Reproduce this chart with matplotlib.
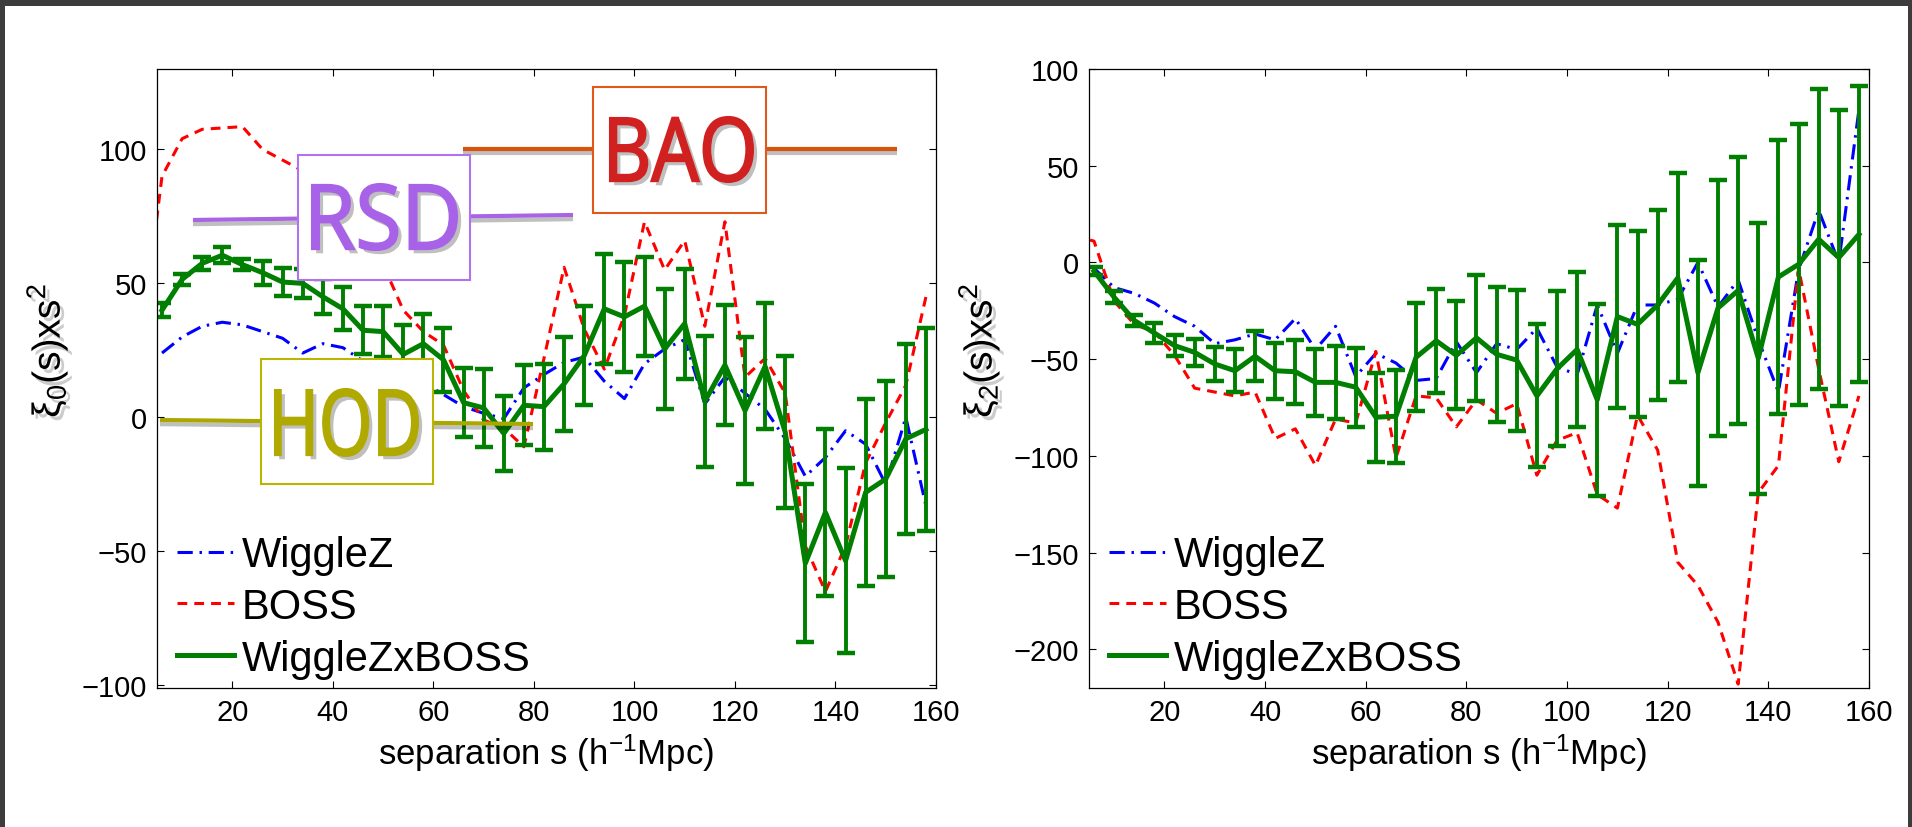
import numpy as np
import matplotlib
matplotlib.use("Agg")
import matplotlib.pyplot as plt
import matplotlib.patheffects as pe
from matplotlib.patches import Rectangle, PathPatch
from matplotlib.lines import Line2D
from matplotlib.textpath import TextPath
from matplotlib.font_manager import FontProperties
from matplotlib.transforms import Affine2D

W, H = 1912, 828

# --- data (separation in h^-1 Mpc) ---
s = [6, 10, 14, 18, 22, 26, 30, 34, 38, 42, 46, 50, 54, 58, 62, 66, 70, 74, 78, 82,
     86, 90, 94, 98, 102, 106, 110, 114, 118, 122, 126, 130, 134, 138, 142, 146, 150, 154, 158]
s_boss = [2] + s

# monopole xi_0(s) s^2
xi0_cross = [40, 51.5, 57.5, 60.5, 57, 54, 50.5, 50, 45, 40.5, 32.5, 32, 23.5, 27.5, 21.5, 5.5,
             3.5, -6, 4.5, 4, 12.5, 23, 40.5, 37.5, 41.5, 25.5, 35, 6, 19.5, 2.5, 19, -5.5,
             -54.5, -35.5, -53.5, -28, -23, -8, -4.5]
xi0_err = [2.5, 2, 2.5, 3, 2, 4.5, 5.3, 5.5, 6.5, 8, 9, 9.5, 11, 11, 12, 13, 14.5, 14, 15, 16,
           17.5, 18.5, 20.5, 20.5, 18.5, 22.5, 20.5, 24.5, 22.5, 27.5, 23.5, 28.5, 29.5, 31,
           34.5, 35, 36.5, 35.5, 38]
xi0_wigglez = [24, 30, 34, 35.5, 34.5, 32, 29.5, 24, 27.5, 26, 21, 18, 15, 13, 8.5, 4, 1.5, -0.5,
               11, 16, 20.5, 22.5, 13.5, 7, 20, 25.5, 29, 5, 15, 9, 3, -8, -22, -15, -5, -10,
               -25, 0, -33]
xi0_boss = [30, 90, 104, 107.5, 108, 108.5, 100, 96, 92, 88, 80, 70, 57, 40, 32, 27, 10, -1, -4,
            -11, 22, 56, 33, 18, 38, 73, 55, 66, 34, 73, 15, 22, 9, -48, -65, -48, -17, -2, 12, 45]

# quadrupole xi_2(s) s^2
xi2_cross = [-4.5, -18, -30, -36.5, -43, -46.5, -52.5, -56, -48.5, -56, -56.5, -62, -62, -64.5,
             -80, -79.5, -49, -40.5, -48, -39, -47.5, -50.5, -69, -55, -45, -71, -28, -32, -22,
             -8, -57, -23.5, -14.5, -49.5, -7.5, -1, 12, 2.5, 14.5]
xi2_err = [2, 3, 3, 5, 5.5, 7, 9, 11, 13, 14.5, 16.5, 17.5, 19, 20.5, 23, 24, 28, 27, 28, 32.5,
           35, 36.5, 37, 40, 40, 49.5, 47.5, 48, 49, 54, 58.5, 66, 69, 70, 71, 72.5, 77.5, 76.5,
           76.5]
xi2_wigglez = [-3, -13, -16, -21, -28, -33, -42, -40, -37, -40, -29, -45, -33, -59, -47, -52, -61,
               -60, -41, -57, -42, -45, -34, -54, -58, -22, -47, -22, -22, -19, 0, -23, -9, -40,
               -67, -4, 27, 0, 79]
xi2_boss = [14, 11, -20, -32, -36, -48, -65, -67, -69, -67, -91, -86, -105, -81, -83, -46, -101,
            -69, -70, -85, -71, -78, -73, -110, -92, -88, -120, -127, -79, -97, -155, -167, -186,
            -218, -119, -105, -3, -55, -103, -69]

labels = ["WiggleZ", "BOSS", "WiggleZxBOSS"]
x_ticks = [20, 40, 60, 80, 100, 120, 140, 160]

plt.rcParams['font.family'] = ['Liberation Sans', 'DejaVu Sans']
plt.rcParams['mathtext.fontset'] = 'custom'
plt.rcParams['mathtext.rm'] = 'Liberation Sans'
plt.rcParams['mathtext.it'] = 'Liberation Sans:italic'

GREEN = '#007f00'

fig = plt.figure(figsize=(W / 100, H / 100), dpi=100)
fig.patch.set_facecolor('white')

ax1 = fig.add_axes([157 / W, 1 - 689 / H, 779 / W, 619 / H])
ax2 = fig.add_axes([1089 / W, 1 - 689 / H, 780 / W, 619 / H])

panels = [
    (ax1, xi0_wigglez, xi0_boss, xi0_cross, xi0_err, (-101, 130), [-100, -50, 0, 50, 100],
     r'$\mathregular{\xi_0(s)xs^2}$'),
    (ax2, xi2_wigglez, xi2_boss, xi2_cross, xi2_err, (-220, 100), [-200, -150, -100, -50, 0, 50, 100],
     r'$\mathregular{\xi_2(s)xs^2}$'),
]

for ax, wz, bo, cr, err, ylim, yticks, ylab in panels:
    ax.plot(s, wz, color='blue', lw=2.2, linestyle=(0, (5, 2.2, 0.8, 2.2)), label=labels[0])
    ax.plot(s_boss, bo, color='red', lw=2.2, linestyle=(0, (3.2, 2.3)), label=labels[1])
    ax.errorbar(s, cr, yerr=err, fmt='none', ecolor=GREEN, elinewidth=2.8,
                capsize=6.5, capthick=3.2)
    ax.plot(s, cr, color=GREEN, lw=3.6, label=labels[2])

    ax.set_xlim(5, 160)
    ax.set_ylim(*ylim)
    ax.set_xticks(x_ticks)
    ax.set_yticks(yticks)
    ax.tick_params(direction='in', length=5, width=0.8, top=True, right=True,
                   labelsize=21, pad=7)
    for sp in ax.spines.values():
        sp.set_linewidth(0.9)

    ax.set_xlabel(r'separation s (h$^{-1}$Mpc)', fontsize=25)
    ax.xaxis.set_label_coords(0.5, -0.07)
    ax.set_ylabel(ylab, fontsize=28,
                  path_effects=[pe.withSimplePatchShadow(offset=(3, -3), shadow_rgbFace='gray', alpha=0.4)])
    ax.yaxis.set_label_coords(-0.112, 0.545)

    ax.legend(loc='lower left', bbox_to_anchor=(0.026, 0.015), frameon=False, fontsize=30,
              handlelength=1.37, handletextpad=0.17, labelspacing=0.28,
              borderpad=0, borderaxespad=0)


# --- overlay labels: RSD / BAO / HOD ---
def fx(x):
    return x / W


def fy(y):
    return 1 - y / H


def overlay(text, text_color, edge_color, line_color, box, text_box, line):
    lx0, ly0, lx1, ly1 = line
    fig.add_artist(Line2D([fx(lx0), fx(lx1)], [fy(ly0), fy(ly1)], transform=fig.transFigure,
                          color=line_color, lw=3, solid_capstyle='butt', zorder=3,
                          path_effects=[pe.SimpleLineShadow(offset=(0, -3), shadow_color='k', alpha=0.25),
                                        pe.Normal()]))
    bx0, by0, bx1, by1 = box
    fig.add_artist(Rectangle((fx(bx0), fy(by1)), (bx1 - bx0) / W, (by1 - by0) / H,
                             transform=fig.transFigure, facecolor='white', edgecolor=edge_color,
                             lw=1.5, zorder=4))
    tx0, ty0, tx1, ty1 = text_box
    tp = TextPath((0, 0), text, size=100, prop=FontProperties(family='Open Sans'))
    ext = tp.get_extents()
    sx = (tx1 - tx0) / ext.width
    sy = (ty1 - ty0) / ext.height
    tr = (Affine2D().translate(-ext.x0, -ext.y0).scale(sx, sy)
          .translate(tx0, H - ty1).scale(1 / W, 1 / H) + fig.transFigure)
    fig.add_artist(PathPatch(tp, transform=tr, facecolor=text_color, edgecolor=text_color, lw=1.5,
                             zorder=5,
                             path_effects=[pe.SimplePatchShadow(offset=(3, -3), shadow_rgbFace='k', alpha=0.25),
                                           pe.Normal()]))


overlay('BAO', '#d02020', '#e0581a', '#d9530e', (593, 88, 766, 214), (610, 118, 753, 183),
        (463, 150, 897, 150))
overlay('RSD', '#a862e8', '#b272f0', '#a864e4', (298, 156, 470, 281), (312, 185, 457, 251),
        (193, 221, 573, 216))
overlay('HOD', '#b0aa00', '#bab500', '#aaa800', (261, 360, 433, 485), (275, 390, 418, 457),
        (160, 421, 533, 425))

# dark frame around the picture
frame_color = '#3c3c3c'
for x0, y0, w, h in [(0, 0, 5, H), (0, 0, W, 7), (W - 4, 0, 4, H)]:
    fig.add_artist(Rectangle((fx(x0), fy(y0 + h)), w / W, h / H, transform=fig.transFigure,
                             facecolor=frame_color, edgecolor='none', zorder=10))

fig.savefig('out.png', dpi=100)
